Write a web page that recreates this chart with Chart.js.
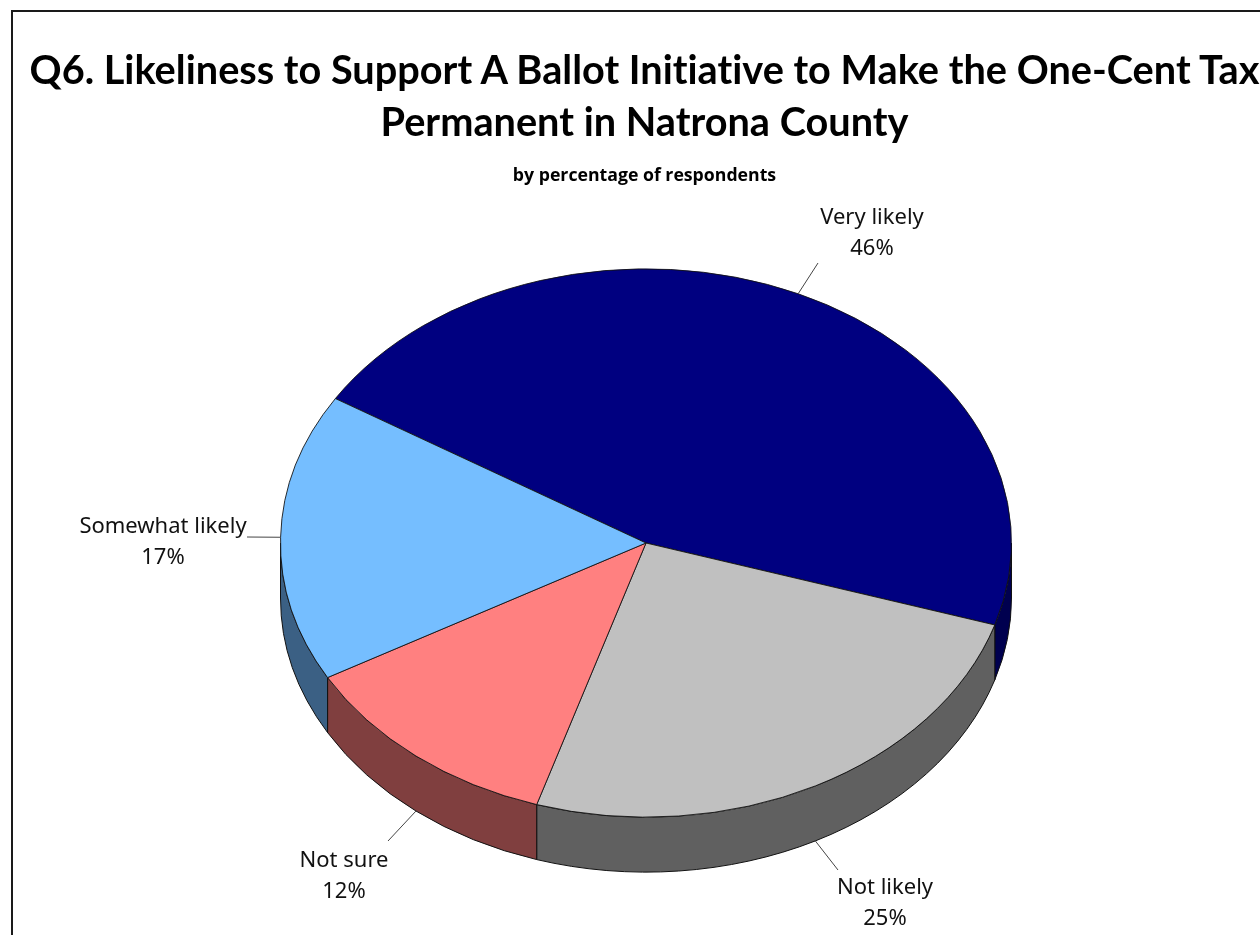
<!DOCTYPE html>
<html lang="en">
<head>
    <meta charset="UTF-8">
    <title>Q6 Ballot Initiative</title>
    <script src="https://cdn.jsdelivr.net/npm/chart.js"></script>
    <style>
        html, body { margin: 0; width: 1260px; height: 935px; overflow: hidden; background: #fff; }
        #frame { position: absolute; left: 11px; top: 10px; width: 1260px; height: 940px; border-left: 2px solid #1a1a1a; border-top: 2px solid #1a1a1a; }
        canvas { position: absolute; left: 0; top: 0; }
        h1, h2 { position: absolute; margin: 0; left: 0; width: 1289px; text-align: center; white-space: nowrap; color: #000; }
        h1 { font: bold 39.7px/52px Lato, sans-serif; font-variant-ligatures: none; top: 43px; }
        h2 { font: bold 17.7px/22px "Open Sans", sans-serif; top: 163px; }
    </style>
</head>
<body>
    <div id="frame"></div>
    <canvas id="pieChart" width="1260" height="935"></canvas>
    <h1>Q6. Likeliness to Support A Ballot Initiative to Make the One-Cent Tax<br>Permanent in Natrona County</h1>
    <h2>by percentage of respondents</h2>

    <script>
// valeurs
const categories = ['Very likely', 'Not likely', 'Not sure', 'Somewhat likely'];
const percentages = [46, 25, 12, 17];
const topColors = ['#000080', '#c0c0c0', '#ff8080', '#75beff'];
const wallColors = ['#00004f', '#606060', '#803f3f', '#3b6084'];

// aspect of the tilted pie
const squash = 0.75;
const depth = 55;
const firstSliceAngle = -58.2;

// where each label sits: end of the leader line, then centre of the text
const labelSpots = [
    { lineEnd: [818, 263], text: [872, 218] },
    { lineEnd: [838, 870], text: [885, 888] },
    { lineEnd: [388, 841], text: [344, 861] },
    { lineEnd: [247, 537], text: [163, 527] }
];

// side wall of the pie, drawn under the slices
function drawWalls(ctx, arcs) {
    arcs.forEach((arc, i) => {
        const start = Math.max(arc.startAngle, 0);
        const end = Math.min(arc.endAngle, Math.PI);
        if (end <= start) return;
        const rx = arc.outerRadius;
        const ry = arc.outerRadius * squash;
        ctx.beginPath();
        ctx.ellipse(arc.x, arc.y, rx, ry, 0, start, end);
        ctx.ellipse(arc.x, arc.y + depth, rx, ry, 0, end, start, true);
        ctx.closePath();
        ctx.fillStyle = wallColors[i];
        ctx.fill();
        ctx.lineWidth = 1;
        ctx.strokeStyle = '#111';
        ctx.stroke();
    });
}

const tiltedPie = {
    id: 'tiltedPie',
    beforeDatasetsDraw(chart) {
        const ctx = chart.ctx;
        const arcs = chart.getDatasetMeta(0).data;
        drawWalls(ctx, arcs);
        // on écrase le cercle en ellipse
        ctx.save();
        ctx.translate(0, arcs[0].y);
        ctx.scale(1, squash);
        ctx.translate(0, -arcs[0].y);
    },
    afterDatasetsDraw(chart) {
        const ctx = chart.ctx;
        ctx.restore();
        chart.getDatasetMeta(0).data.forEach((arc, i) => {
            const mid = (arc.startAngle + arc.endAngle) / 2;
            const x = arc.x + arc.outerRadius * Math.cos(mid);
            let y = arc.y + arc.outerRadius * squash * Math.sin(mid);
            // lower slices: the line leaves from the bottom of the wall
            if (Math.sin(mid) > 0.1) y += depth;
            const spot = labelSpots[i];
            ctx.beginPath();
            ctx.moveTo(x, y);
            ctx.lineTo(spot.lineEnd[0], spot.lineEnd[1]);
            ctx.lineWidth = 1;
            ctx.strokeStyle = '#444';
            ctx.stroke();
            ctx.fillStyle = '#111';
            ctx.font = '22px "Noto Sans", sans-serif';
            ctx.textAlign = 'center';
            ctx.textBaseline = 'middle';
            ctx.fillText(categories[i], spot.text[0], spot.text[1]);
            ctx.fillText(percentages[i] + '%', spot.text[0], spot.text[1] + 31);
        });
    }
};

new Chart(document.getElementById('pieChart'), {
    type: 'pie',
    data: {
        labels: categories,
        datasets: [{
            data: percentages,
            backgroundColor: topColors,
            borderColor: '#111',
            borderWidth: 1,
            clip: false
        }]
    },
    options: {
        responsive: false,
        animation: false,
        rotation: firstSliceAngle,
        layout: { padding: { left: 280, right: 248, top: 177, bottom: 26 } },
        plugins: { legend: { display: false }, tooltip: { enabled: false } }
    },
    plugins: [tiltedPie]
});
    </script>
</body>
</html>
